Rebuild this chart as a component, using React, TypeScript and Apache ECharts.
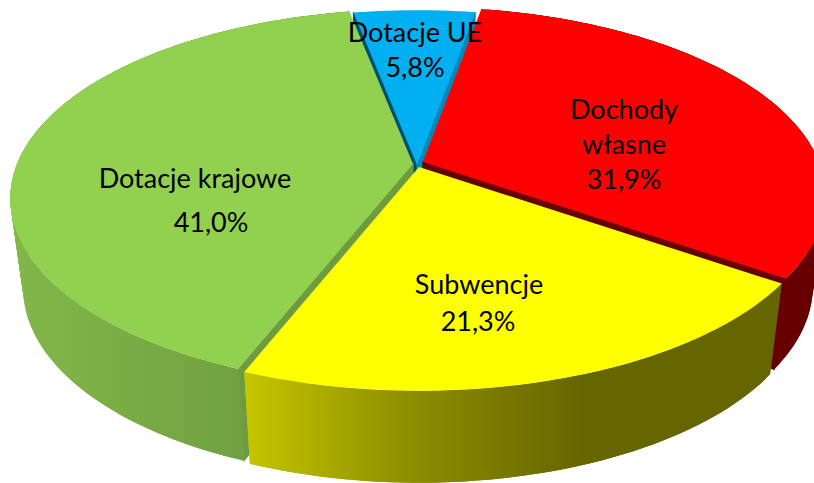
import React, { useEffect, useRef } from "react";
import * as echarts from "echarts";

const categories = ["Dotacje UE", "Dochody własne", "Subwencje", "Dotacje krajowe"];
const shares = [5.8, 31.9, 21.3, 41.0];
const labelLines = [["Dotacje UE", "5,8%"], ["Dochody", "własne", "31,9%"], ["Subwencje", "21,3%"], ["Dotacje krajowe", "41,0%"]];

// Styling / layout, separate from data
const topColors = ["#00B0F0", "#FF0000", "#FFFF00", "#92D050"];
const cutStartColors = ["#004F6C", "", "", "#6F9B40"];
const cutEndColors = ["#0088BB", "#660000", "", ""];
const wallStops: [number, string][][] = [
  [[0, "#0088BB"], [1, "#0088BB"]],
  [[0, "#660000"], [1, "#660000"]],
  [[0, "#C6C600"], [0.29, "#909000"], [0.63, "#666600"], [1, "#666600"]],
  [[0, "#83B749"], [1, "#68973D"]],
];
const tips = [[417, 165], [423, 162], [419, 167], [413, 164]];
const labelXs = [[415, 415], [624, 624, 624], [479, 478], [195, 211]];
const labelYs = [[31, 66], [108, 143, 178], [283, 320], [177, 221]];
const paintRank = [0, 1, 3, 2];
const Rx = 396, Ry = 183, K = 0.182, SHRINK = 0.968;
const START_DEG = -10.9;

function rim(deg: number, tip: number[]) {
  const a = (deg * Math.PI) / 180;
  const u = Math.sin(a), v = -Math.cos(a);
  const w = 1 - K * v;
  return [tip[0] + (Rx * u) / w, tip[1] + (Ry * v) / w];
}
function lower(p: number[], tip: number[], deg: number) {
  const v = -Math.cos((deg * Math.PI) / 180);
  return [tip[0] + SHRINK * (p[0] - tip[0]), p[1] + 89 + 3 * v];
}

const total = shares.reduce((a, b) => a + b, 0);

export default function App() {
  const ref = useRef<HTMLDivElement>(null);
  useEffect(() => {
    const chart = echarts.init(ref.current!, null, { renderer: "svg" });
    chart.setOption({
      animation: false,
      backgroundColor: "#FFFFFF",
      series: [
        {
          type: "custom",
          coordinateSystem: "none",
          silent: true,
          clip: false,
          data: categories.map((name, i) => ({ name, value: shares[i] })),
          renderItem: (params: any, api: any) => {
            const i = params.dataIndex;
            const before = shares.slice(0, i).reduce((a, b) => a + b, 0);
            const a0 = START_DEG + (before / total) * 360;
            const a1 = a0 + (api.value(0) / total) * 360;
            const tip = tips[i];
            const z = paintRank[i] * 10;
            const steps = Math.max(8, Math.round((a1 - a0) / 1.5));
            const degs = Array.from({ length: steps + 1 }, (_, s) => a0 + ((a1 - a0) * s) / steps);
            const top = degs.map((d) => rim(d, tip));
            const bottom = degs.map((d, s) => lower(top[s], tip, d));
            const low = [tip[0], tip[1] + 89];
            const xs = top.map((p) => p[0]);
            const children: any[] = [];
            if (cutStartColors[i]) {
              children.push({
                type: "polygon", z2: z,
                shape: { points: [tip, top[0], bottom[0], low] },
                style: { fill: cutStartColors[i], stroke: cutStartColors[i], lineWidth: 1.2 },
              });
            }
            if (cutEndColors[i]) {
              children.push({
                type: "polygon", z2: z,
                shape: { points: [tip, top[steps], bottom[steps], low] },
                style: { fill: cutEndColors[i], stroke: cutEndColors[i], lineWidth: 1.2 },
              });
            }
            if (i !== 0) {
              const wallFill = new echarts.graphic.LinearGradient(
                Math.min(...xs), 0, Math.max(...xs), 0,
                wallStops[i].map(([offset, color]) => ({ offset, color })),
                true
              );
              for (let s = 0; s < steps; s++) {
                const e = Math.min(s + 2, steps);
                children.push({
                  type: "polygon", z2: z + 1,
                  shape: { points: [...top.slice(s, e + 1), ...bottom.slice(s, e + 1).reverse()] },
                  style: { fill: wallFill },
                });
              }
            }
            children.push({
              type: "polygon", z2: z + 2,
              shape: { points: [tip, ...top] },
              style: { fill: topColors[i] },
            });
            return { type: "group", children };
          },
        },
        {
          type: "custom",
          coordinateSystem: "none",
          silent: true,
          z: 5,
          data: categories.map((name, i) => ({ name, value: shares[i] })),
          renderItem: (params: any) => {
            const i = params.dataIndex;
            return {
              type: "group",
              children: labelLines[i].map((t, n) => ({
                type: "text",
                x: labelXs[i][n],
                y: labelYs[i][n],
                style: {
                  text: t,
                  fill: "#000000",
                  font: '27px Lato, "Noto Sans", sans-serif',
                  align: "center",
                  verticalAlign: "middle",
                },
              })),
            };
          },
        },
      ],
    });
    return () => chart.dispose();
  }, []);
  return <div ref={ref} style={{ position: "absolute", left: 0, top: 0, width: 814, height: 483 }} />;
}
